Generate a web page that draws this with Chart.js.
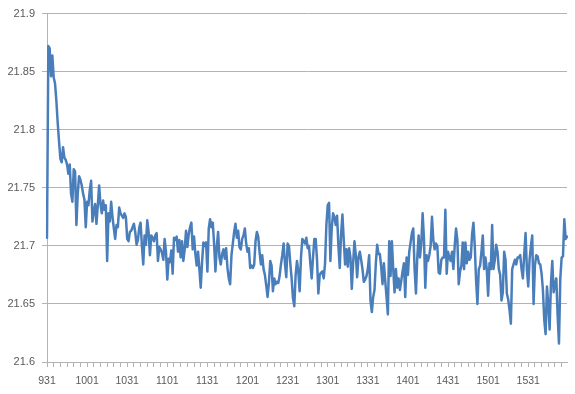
<!DOCTYPE html>
<html>
<head>
<meta charset="utf-8">
<script src="https://cdn.jsdelivr.net/npm/chart.js@4.4.0/dist/chart.umd.min.js"></script>
<style>
  body { margin: 0; background: #fff; }
  #wrap { width: 575px; height: 394px; }
</style>
</head>
<body>
<div id="wrap"><canvas id="chart" width="575" height="394"></canvas></div>
<script>
// time of day, one point per minute from 9:31 to 16:00
const startMinute = 9 * 60 + 31;
const endMinute = 16 * 60;
const categories = [];
for (let m = startMinute; m <= endMinute; m++) {
    categories.push(String(Math.floor(m / 60) * 100 + (m % 60)));
}

// labels shown on the x axis (every 30 minutes)
const tickLabels = ['931', '1001', '1031', '1101', '1131', '1201', '1231',
    '1301', '1331', '1401', '1431', '1501', '1531'];

// y axis range
const yMin = 21.6;
const yMax = 21.9;
const yStep = 0.05;

// price
const prices = [
    21.707, 21.872, 21.870, 21.846, 21.864, 21.845, 21.840, 21.825, 21.806, 21.790,
    21.775, 21.772, 21.785, 21.776, 21.774, 21.770, 21.762, 21.770, 21.745, 21.738,
    21.766, 21.764, 21.718, 21.745, 21.760, 21.757, 21.752, 21.745, 21.740, 21.716,
    21.738, 21.735, 21.748, 21.756, 21.721, 21.730, 21.736, 21.719, 21.735, 21.752,
    21.736, 21.728, 21.739, 21.731, 21.735, 21.687, 21.728, 21.721, 21.738, 21.725,
    21.715, 21.706, 21.718, 21.716, 21.733, 21.728, 21.726, 21.724, 21.728, 21.725,
    21.706, 21.704, 21.712, 21.713, 21.716, 21.719, 21.712, 21.701, 21.705, 21.716,
    21.720, 21.700, 21.684, 21.709, 21.701, 21.722, 21.712, 21.692, 21.709, 21.707,
    21.704, 21.709, 21.711, 21.687, 21.699, 21.697, 21.694, 21.688, 21.706, 21.695,
    21.671, 21.689, 21.686, 21.696, 21.676, 21.707, 21.705, 21.708, 21.695, 21.705,
    21.690, 21.704, 21.687, 21.697, 21.713, 21.699, 21.710, 21.716, 21.720, 21.697,
    21.708, 21.693, 21.683, 21.695, 21.680, 21.664, 21.686, 21.703, 21.700, 21.703,
    21.678, 21.715, 21.723, 21.716, 21.720, 21.702, 21.678, 21.699, 21.712, 21.690,
    21.684, 21.693, 21.697, 21.689, 21.698, 21.681, 21.672, 21.667, 21.692, 21.702,
    21.712, 21.719, 21.707, 21.713, 21.699, 21.697, 21.706, 21.709, 21.715, 21.702,
    21.695, 21.698, 21.681, 21.683, 21.681, 21.684, 21.704, 21.712, 21.708, 21.695,
    21.684, 21.692, 21.680, 21.675, 21.666, 21.656, 21.668, 21.687, 21.683, 21.661,
    21.672, 21.667, 21.669, 21.668, 21.674, 21.684, 21.692, 21.702, 21.685, 21.673,
    21.702, 21.700, 21.685, 21.672, 21.655, 21.648, 21.675, 21.687, 21.678, 21.661,
    21.690, 21.706, 21.704, 21.702, 21.707, 21.698, 21.700, 21.685, 21.672, 21.690,
    21.706, 21.706, 21.688, 21.659, 21.675, 21.677, 21.678, 21.672, 21.685, 21.718,
    21.735, 21.737, 21.687, 21.715, 21.728, 21.725, 21.718, 21.726, 21.700, 21.681,
    21.710, 21.727, 21.705, 21.684, 21.697, 21.682, 21.698, 21.690, 21.663, 21.685,
    21.704, 21.692, 21.673, 21.690, 21.695, 21.688, 21.680, 21.669, 21.671, 21.674,
    21.680, 21.692, 21.653, 21.643, 21.656, 21.662, 21.685, 21.701, 21.693, 21.693,
    21.682, 21.667, 21.685, 21.670, 21.656, 21.641, 21.704, 21.674, 21.704, 21.680,
    21.660, 21.680, 21.664, 21.672, 21.662, 21.670, 21.678, 21.685, 21.656, 21.690,
    21.675, 21.695, 21.703, 21.711, 21.715, 21.680, 21.659, 21.690, 21.709, 21.690,
    21.702, 21.728, 21.706, 21.664, 21.692, 21.687, 21.692, 21.700, 21.725, 21.705,
    21.697, 21.702, 21.700, 21.677, 21.676, 21.688, 21.690, 21.690, 21.731, 21.676,
    21.695, 21.690, 21.687, 21.695, 21.680, 21.700, 21.715, 21.705, 21.667, 21.678,
    21.683, 21.703, 21.680, 21.703, 21.685, 21.695, 21.688, 21.690, 21.710, 21.720,
    21.700, 21.670, 21.650, 21.680, 21.683, 21.695, 21.709, 21.680, 21.690, 21.680,
    21.657, 21.685, 21.680, 21.718, 21.680, 21.688, 21.701, 21.695, 21.680, 21.675,
    21.653, 21.660, 21.695, 21.688, 21.659, 21.654, 21.645, 21.633, 21.680, 21.684,
    21.688, 21.684, 21.690, 21.690, 21.692, 21.680, 21.672, 21.693, 21.711, 21.680,
    21.665, 21.688, 21.700, 21.709, 21.650, 21.683, 21.692, 21.691, 21.685, 21.684,
    21.676, 21.662, 21.636, 21.624, 21.665, 21.650, 21.628, 21.668, 21.687, 21.660,
    21.667, 21.672, 21.640, 21.616, 21.672, 21.690, 21.691, 21.723, 21.706, 21.708
];

const axisGrey = '#b3b3b3';
const textGrey = '#595959';

new Chart(document.getElementById('chart'), {
    type: 'line',
    data: {
        labels: categories,
        datasets: [{
            data: prices,
            borderColor: '#4a7ebb',
            borderWidth: 2.5,
            borderJoinStyle: 'round',
            borderCapStyle: 'round',
            pointRadius: 0,
            tension: 0,
            fill: false
        }]
    },
    options: {
        responsive: false,
        animation: false,
        devicePixelRatio: 1,
        layout: { padding: { top: 9, right: 5, bottom: 0, left: 0 } },
        plugins: {
            legend: { display: false },
            tooltip: { enabled: false }
        },
        scales: {
            x: {
                type: 'category',
                offset: false,
                afterFit: (scale) => { scale.height = 32; },
                grid: {
                    drawOnChartArea: false,
                    drawTicks: true,
                    tickLength: 5,
                    tickColor: (ctx) => (ctx.index % 5 === 0 ? axisGrey : 'rgba(0,0,0,0)')
                },
                border: { color: axisGrey, width: 1 },
                ticks: {
                    autoSkip: false,
                    maxRotation: 0,
                    padding: 8,
                    color: textGrey,
                    font: { family: 'Liberation Sans', size: 10.5 },
                    callback: function (value, index) {
                        const lab = this.getLabelForValue(value);
                        return tickLabels.includes(lab) ? lab : '';
                    }
                }
            },
            y: {
                min: yMin,
                max: yMax,
                afterFit: (scale) => { scale.width = 47; },
                grid: {
                    color: axisGrey,
                    lineWidth: 1,
                    tickLength: 5
                },
                border: { color: axisGrey, width: 1 },
                ticks: {
                    stepSize: yStep,
                    padding: 7,
                    color: textGrey,
                    font: { family: 'Liberation Sans', size: 11 },
                    callback: (v) => String(Number(v.toFixed(2)))
                }
            }
        }
    }
});
</script>
</body>
</html>
